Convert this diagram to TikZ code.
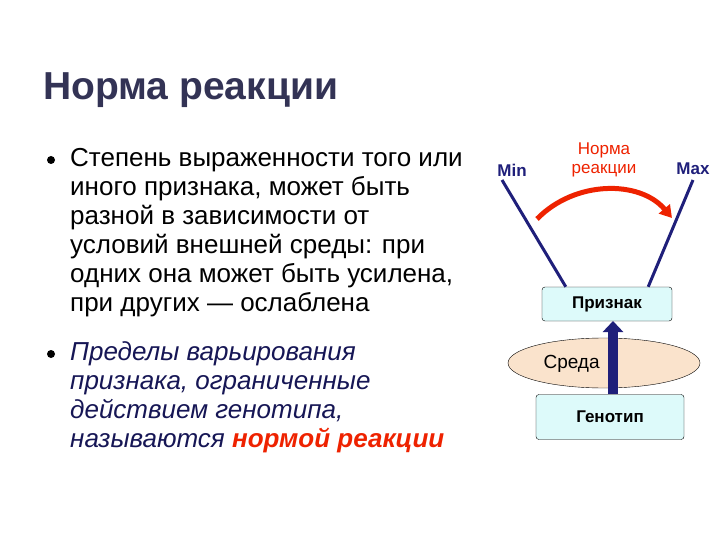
\documentclass[tikz,border=0pt]{standalone}
\usepackage{fontspec}
\setmainfont{Liberation Sans}
\usetikzlibrary{arrows.meta,shapes.geometric}
\definecolor{navy}{HTML}{1F1F7A}
\definecolor{boxfill}{HTML}{DDFAFA}
\definecolor{ellfill}{HTML}{FAE3CC}
\definecolor{redd}{HTML}{EE2200}
\definecolor{titlec}{HTML}{333355}
\tikzset{
  boxn/.style={draw=black, fill=boxfill, rounded corners=3pt, minimum width=#1, font=\bfseries\fontsize{17}{19}\selectfont},
  body/.style={anchor=north west, align=left, inner sep=0pt, font=\fontsize{26}{29}\selectfont},
  bul/.style={circle, fill=black, inner sep=0pt, minimum size=8pt},
}
\begin{document}
\begin{tikzpicture}[x=1pt,y=-1pt]
\useasboundingbox (0,0) rectangle (720,540);
\node[anchor=base west, inner sep=0pt, text=titlec, font=\bfseries\fontsize{39}{42}\selectfont] (title) at (43,100) {Норма реакции};
\node[bul] (b1) at (51,160) {};
\node[body] (t1) at (70,148) {Степень выраженности того или\\иного признака, может быть\\разной в зависимости от\\условий внешней среды: при\\одних она может быть усилена,\\при других — ослаблена};
\node[bul] (b2) at (51,354) {};
\node[body, font=\itshape\fontsize{26}{29}\selectfont, text=navy!70!black] (t2) at (70,341) {Пределы варьирования\\признака, ограниченные\\действием генотипа,\\называются \textcolor{redd}{\bfseries нормой реакции}};
% diagram
\node[draw=black, fill=ellfill, ellipse, minimum width=192, minimum height=50, inner sep=0pt] (env) at (604,363) {};
\node[font=\fontsize{19}{21}\selectfont, anchor=west] (envt) at (540,364) {Среда};
\node[boxn=130, minimum height=34] (pr) at (607,304) {Признак};
\node[boxn=148, minimum height=45] (gen) at (610,417) {Генотип};
\draw[navy, line width=10pt, -{Triangle[length=11pt,width=20pt]}] (gen.north -| 613,0) -- (613,321);
\coordinate (minend) at (502,180);
\coordinate (maxend) at (693,180);
\draw[navy, line width=3pt] (pr.north west) ++(24,0) -- (minend);
\draw[navy, line width=3pt] (pr.north east) ++(-24,0) -- (maxend);
\node[text=navy, font=\bfseries\fontsize{17}{19}\selectfont] (minl) at (512,170) {Min};
\node[text=navy, font=\bfseries\fontsize{17}{19}\selectfont] (maxl) at (693,169) {Max};
\node[text=redd, align=center, font=\fontsize{17}{19}\selectfont] (nr) at (604,160) {Норма\\реакции};
\coordinate (arcs) at (537,219);
\coordinate (arce) at (672,218);
\draw[redd, line width=5pt, -{Triangle[length=12pt,width=14pt]}] (arcs) .. controls (575,180) and (640,180) .. (arce);
\end{tikzpicture}
\end{document}
